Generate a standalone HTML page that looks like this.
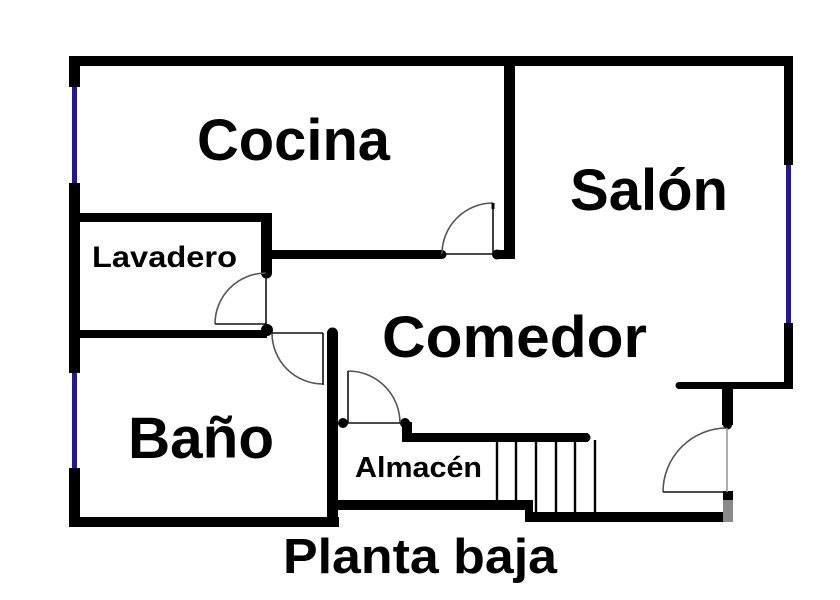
<!DOCTYPE html>
<html>
<head>
<meta charset="utf-8">
<style>
html,body{margin:0;padding:0;background:#fff;}
svg{display:block;}
text{font-family:"Liberation Sans",Arial,sans-serif;font-weight:bold;fill:#000;}
</style>
</head>
<body>
<svg width="840" height="600" viewBox="0 0 840 600" xmlns="http://www.w3.org/2000/svg">
<rect width="840" height="600" fill="#fff"/>

<!-- Walls -->
<g fill="#000">
  <!-- top wall -->
  <rect x="69" y="56" width="724" height="10"/>
  <!-- left wall segments -->
  <rect x="69" y="56" width="11" height="31"/>
  <rect x="69" y="183" width="11" height="190"/>
  <rect x="69" y="468" width="11" height="59"/>
  <!-- cocina right wall -->
  <rect x="504" y="56" width="11" height="203"/>
  <!-- cocina bottom wall (left part) -->
  <rect x="266" y="250" width="176" height="9"/>
  <circle cx="442" cy="254.5" r="4.5"/>
  <!-- cocina bottom hinge block -->
  <rect x="497" y="250" width="18" height="9"/>
  <circle cx="497" cy="254.5" r="5"/>
  <!-- lavadero top -->
  <rect x="69" y="213" width="203" height="9"/>
  <!-- lavadero right -->
  <rect x="261" y="213" width="11" height="60"/>
  <circle cx="266.5" cy="273" r="5.5"/>
  <!-- lavadero bottom / bano top -->
  <rect x="69" y="330" width="198" height="8"/>
  <circle cx="267" cy="330" r="6"/>
  <!-- bano right wall -->
  <rect x="327" y="333" width="11" height="194"/>
  <circle cx="332.5" cy="333" r="5.5"/>
  <!-- bano bottom -->
  <rect x="69" y="517" width="270" height="10"/>
  <!-- almacen bottom -->
  <rect x="337" y="500" width="196" height="10"/>
  <!-- step -->
  <rect x="525" y="500" width="8" height="22"/>
  <!-- bottom right wall -->
  <rect x="525" y="512" width="198" height="10"/>
  <!-- almacen hinge left -->
  <circle cx="343" cy="423" r="5"/>
  <!-- almacen top wall -->
  <rect x="402" y="433" width="186" height="9"/>
  <circle cx="586" cy="437.5" r="4.5"/>
  <rect x="402" y="422" width="10" height="16"/>
  <circle cx="405" cy="423" r="5"/>
  <!-- salon right wall -->
  <rect x="784" y="56" width="9" height="109"/>
  <rect x="784" y="323" width="9" height="66"/>
  <!-- salon bottom wall -->
  <rect x="679" y="382" width="114" height="7"/>
  <circle cx="679" cy="385.5" r="3.5"/>
  <!-- right door stub -->
  <rect x="722" y="385" width="11" height="40"/>
  <circle cx="727.5" cy="425" r="4.5"/>
  <!-- dark top of gray block -->
  <rect x="723" y="491" width="10" height="9"/>
</g>
<rect x="723" y="500" width="10" height="22" fill="#8a8a8a"/>

<!-- windows -->
<g stroke="#2314a6" stroke-width="5">
  <line x1="74.5" y1="87" x2="74.5" y2="183"/>
  <line x1="74.5" y1="373" x2="74.5" y2="468"/>
  <line x1="788.5" y1="165" x2="788.5" y2="323"/>
</g>

<!-- Doors -->
<g fill="none" stroke="#555" stroke-width="1.6">
  <!-- D1 cocina -->
  <path d="M493 203 A51 51 0 0 0 442 254"/>
  <!-- D2 lavadero -->
  <path d="M266 273 A51 51 0 0 0 215 324"/>
  <!-- D3 bano -->
  <path d="M272 333 A51 51 0 0 0 323 384"/>
  <!-- D4 almacen -->
  <path d="M348 371 A52 52 0 0 1 400 423"/>
  <!-- D5 right -->
  <path d="M727 428 A64 64 0 0 0 663 492"/>
</g>
<g fill="none" stroke="#111" stroke-width="1.6">
  <line x1="493" y1="203" x2="493" y2="254"/>
  <line x1="442" y1="254" x2="493" y2="254"/>
  <line x1="266" y1="273" x2="266" y2="324"/>
  <line x1="215" y1="324" x2="266" y2="324"/>
  <line x1="272" y1="333" x2="323" y2="333"/>
  <line x1="323" y1="333" x2="323" y2="385"/>
  <line x1="348" y1="371" x2="348" y2="423"/>
  <line x1="343" y1="423" x2="402" y2="423"/>
  <line x1="663" y1="492" x2="727" y2="492"/>
</g>
<line x1="727" y1="428" x2="727" y2="492" stroke="#999" stroke-width="1.6"/>
<line x1="493" y1="203" x2="493" y2="209" stroke="#000" stroke-width="3"/>

<!-- Stairs -->
<g stroke="#000" stroke-width="2.4">
  <line x1="497" y1="442" x2="497" y2="500"/>
  <line x1="516" y1="442" x2="516" y2="500"/>
  <line x1="536" y1="442" x2="536" y2="512"/>
  <line x1="556" y1="442" x2="556" y2="512"/>
  <line x1="575" y1="442" x2="575" y2="512"/>
  <line x1="595" y1="440" x2="595" y2="512"/>
</g>

<!-- Labels -->
<text x="197" y="160" font-size="58" textLength="193" lengthAdjust="spacingAndGlyphs">Cocina</text>
<text x="570" y="210" font-size="58" textLength="158" lengthAdjust="spacingAndGlyphs">Salón</text>
<text x="382" y="357" font-size="58" textLength="265" lengthAdjust="spacingAndGlyphs">Comedor</text>
<text x="128" y="458" font-size="58" textLength="146" lengthAdjust="spacingAndGlyphs">Baño</text>
<text x="92" y="267" font-size="30" textLength="145" lengthAdjust="spacingAndGlyphs">Lavadero</text>
<text x="355" y="477" font-size="29" textLength="127" lengthAdjust="spacingAndGlyphs">Almacén</text>
<text x="283" y="573" font-size="49" textLength="274" lengthAdjust="spacingAndGlyphs">Planta baja</text>
</svg>
</body>
</html>
